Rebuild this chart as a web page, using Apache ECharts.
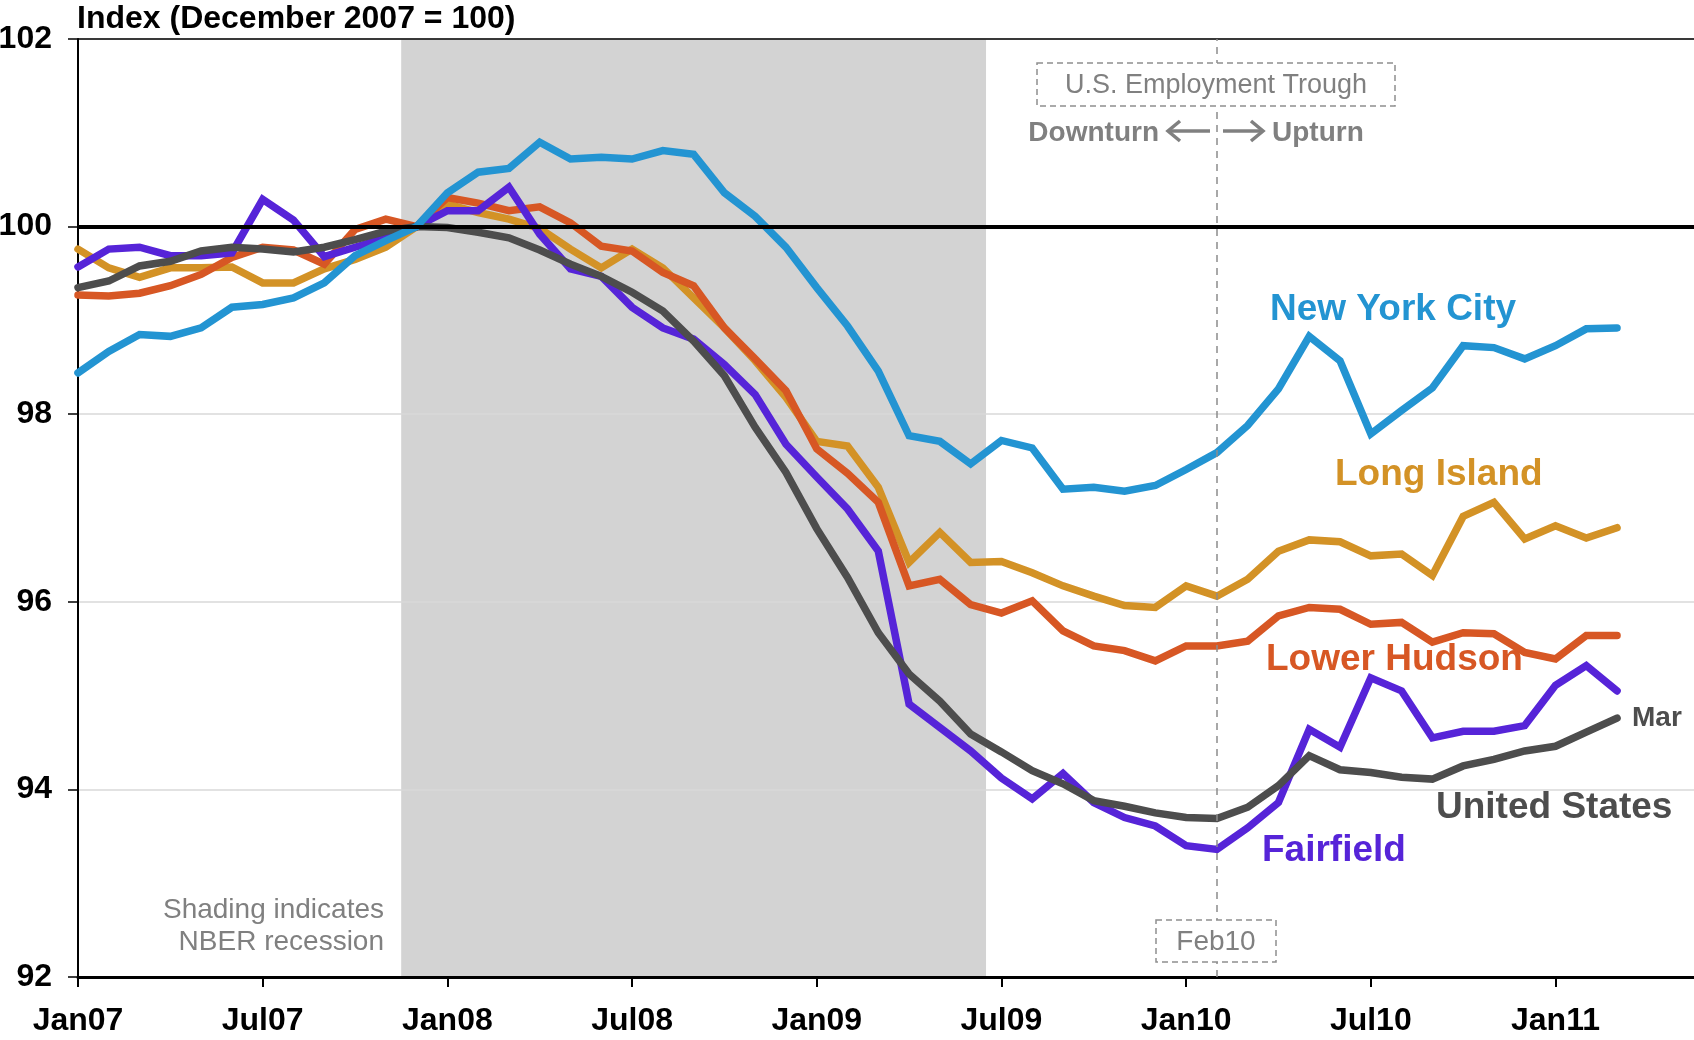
<!DOCTYPE html>
<html>
<head>
<meta charset="utf-8">
<title>Employment Index</title>
<script src="https://cdn.jsdelivr.net/npm/echarts@6/dist/echarts.min.js"></script>
<style>
    html, body { margin: 0; padding: 0; background: #fff; }
    #chart { width: 1694px; height: 1040px; }
</style>
</head>
<body>
<div id="chart"></div>
<script>
const months = [
    'Jan07', 'Feb07', 'Mar07', 'Apr07', 'May07', 'Jun07', 'Jul07', 'Aug07', 'Sep07', 'Oct07', 'Nov07', 'Dec07',
    'Jan08', 'Feb08', 'Mar08', 'Apr08', 'May08', 'Jun08', 'Jul08', 'Aug08', 'Sep08', 'Oct08', 'Nov08', 'Dec08',
    'Jan09', 'Feb09', 'Mar09', 'Apr09', 'May09', 'Jun09', 'Jul09', 'Aug09', 'Sep09', 'Oct09', 'Nov09', 'Dec09',
    'Jan10', 'Feb10', 'Mar10', 'Apr10', 'May10', 'Jun10', 'Jul10', 'Aug10', 'Sep10', 'Oct10', 'Nov10', 'Dec10',
    'Jan11', 'Feb11', 'Mar11'
]
const xTickLabels = ['Jan07', 'Jul07', 'Jan08', 'Jul08', 'Jan09', 'Jul09', 'Jan10', 'Jul10', 'Jan11']
const yTicks = [92, 94, 96, 98, 100, 102]

const newYorkCity = [
    98.44, 98.67, 98.85, 98.83, 98.92, 99.14, 99.17, 99.24, 99.40, 99.69, 99.85, 100.00,
    100.36, 100.58, 100.62, 100.90, 100.72, 100.74, 100.72, 100.81, 100.77, 100.36, 100.11, 99.78,
    99.35, 98.94, 98.46, 97.77, 97.71, 97.47, 97.72, 97.64, 97.20, 97.22, 97.18, 97.24,
    97.41, 97.59, 97.88, 98.27, 98.83, 98.57, 97.79, 98.04, 98.28, 98.73, 98.71, 98.59,
    98.73, 98.91, 98.92
]
const longIsland = [
    99.76, 99.56, 99.46, 99.56, 99.56, 99.57, 99.40, 99.40, 99.55, 99.65, 99.78, 100.00,
    100.24, 100.15, 100.08, 99.98, 99.76, 99.56, 99.76, 99.56, 99.24, 98.92, 98.57, 98.18,
    97.71, 97.66, 97.22, 96.42, 96.74, 96.42, 96.43, 96.31, 96.17, 96.06, 95.96, 95.94,
    96.17, 96.06, 96.24, 96.54, 96.66, 96.64, 96.49, 96.51, 96.28, 96.91, 97.06, 96.67,
    96.81, 96.68, 96.79
]
const lowerHudson = [
    99.27, 99.26, 99.29, 99.37, 99.49, 99.67, 99.78, 99.75, 99.60, 99.97, 100.08, 100.00,
    100.31, 100.25, 100.17, 100.21, 100.04, 99.79, 99.74, 99.51, 99.37, 98.92, 98.59, 98.25,
    97.63, 97.37, 97.06, 96.17, 96.24, 95.97, 95.88, 96.01, 95.69, 95.53, 95.48, 95.37,
    95.53, 95.53, 95.58, 95.85, 95.94, 95.92, 95.76, 95.78, 95.57, 95.67, 95.66, 95.46,
    95.39, 95.64, 95.64
]
const fairfield = [
    99.57, 99.76, 99.78, 99.69, 99.69, 99.72, 100.29, 100.07, 99.68, 99.78, 99.88, 100.00,
    100.17, 100.17, 100.42, 99.92, 99.55, 99.47, 99.14, 98.92, 98.80, 98.53, 98.21, 97.68,
    97.33, 96.99, 96.54, 94.91, 94.66, 94.41, 94.12, 93.90, 94.17, 93.86, 93.70, 93.61,
    93.40, 93.36, 93.59, 93.86, 94.64, 94.45, 95.19, 95.05, 94.55, 94.62, 94.62, 94.68,
    95.11, 95.32, 95.05
]
const unitedStates = [
    99.35, 99.42, 99.58, 99.63, 99.74, 99.78, 99.76, 99.73, 99.78, 99.86, 99.95, 100.00,
    99.99, 99.94, 99.88, 99.75, 99.60, 99.47, 99.30, 99.10, 98.78, 98.41, 97.86, 97.38,
    96.78, 96.26, 95.67, 95.23, 94.94, 94.59, 94.40, 94.20, 94.06, 93.88, 93.82, 93.75,
    93.70, 93.69, 93.81, 94.04, 94.36, 94.21, 94.18, 94.13, 94.11, 94.25, 94.32, 94.41,
    94.46, 94.61, 94.76
]

// NBER recession Dec07 - Jun09, US employment trough Feb10
const recession = [months.indexOf('Dec07') - 0.5, months.indexOf('Jun09') + 0.5]
const trough = months.indexOf('Feb10')

const FONT = '"Liberation Sans", Arial, Helvetica, sans-serif'
const GREY_TEXT = '#808080'

function pairs(values) {
    return values.map((v, i) => [i, v])
}

function lineSeries(name, values, color) {
    return {
        name: name,
        type: 'line',
        z: 2,
        data: pairs(values),
        showSymbol: false,
        silent: true,
        animation: false,
        lineStyle: {
            color: color,
            width: 7.5,
            cap: 'round',
            join: 'miter'
        }
    }
}

function seriesLabel(text, x, y, color) {
    return {
        type: 'text',
        left: x,
        top: y - 21,
        z: 20,
        style: {
            text: text,
            fill: color,
            font: 'bold 37px ' + FONT
        }
    }
}

function dashedBox(x, y, w, h) {
    return {
        type: 'rect',
        z: 10,
        shape: { x: x, y: y, width: w, height: h },
        style: {
            fill: '#fff',
            stroke: '#8f8f8f',
            lineWidth: 1.5,
            lineDash: [6, 4]
        }
    }
}

function arrow(x1, x2, y) {
    const dir = x2 > x1 ? 1 : -1
    return {
        type: 'group',
        z: 10,
        children: [
            {
                type: 'polyline',
                shape: { points: [[x1, y], [x2, y]] },
                style: { stroke: GREY_TEXT, lineWidth: 3.5 }
            },
            {
                type: 'polyline',
                shape: { points: [[x2 - dir * 12, y - 10], [x2, y], [x2 - dir * 12, y + 10]] },
                style: { stroke: GREY_TEXT, lineWidth: 3.5, fill: null }
            }
        ]
    }
}

const chart = echarts.init(document.getElementById('chart'), null, { renderer: 'canvas' })

chart.setOption({
    animation: false,
    backgroundColor: '#fff',
    textStyle: { fontFamily: FONT },
    title: {
        text: 'Index (December 2007 = 100)',
        left: 77,
        top: 3,
        padding: 0,
        textStyle: {
            fontFamily: FONT,
            fontSize: 32,
            fontWeight: 'bold',
            color: '#000'
        }
    },
    grid: {
        left: 78,
        top: 39,
        right: 0,
        bottom: 63,
        containLabel: false,
        outerBoundsMode: 'none'
    },
    xAxis: {
        type: 'value',
        min: 0,
        max: 52.5,
        interval: 6,
        z: 3,
        axisLine: {
            show: true,
            onZero: false,
            lineStyle: { color: '#000', width: 3 }
        },
        axisTick: {
            show: true,
            length: 10,
            lineStyle: { color: '#000', width: 2 }
        },
        axisLabel: {
            margin: 28,
            color: '#000',
            fontFamily: FONT,
            fontSize: 32,
            fontWeight: 'bold',
            showMaxLabel: false,
            formatter: function (v) {
                return v % 6 === 0 ? xTickLabels[v / 6] : ''
            }
        },
        splitLine: { show: false }
    },
    yAxis: {
        type: 'value',
        min: yTicks[0],
        max: yTicks[yTicks.length - 1],
        interval: 2,
        z: 1.5,
        axisLine: {
            show: true,
            onZero: false,
            lineStyle: { color: '#000', width: 2 }
        },
        axisTick: {
            show: true,
            length: 10,
            lineStyle: { color: '#000', width: 1.5 }
        },
        axisLabel: {
            margin: 26,
            color: '#000',
            fontFamily: FONT,
            fontSize: 32,
            fontWeight: 'bold'
        },
        splitLine: {
            show: true,
            lineStyle: { color: '#d9d9d9', width: 1.5 }
        }
    },
    graphic: [
        {
            type: 'text',
            right: 1694 - 384,
            top: 896,
            z: 10,
            style: {
                text: 'Shading indicates',
                fill: GREY_TEXT,
                font: '28px ' + FONT,
                textAlign: 'right'
            }
        },
        {
            type: 'text',
            right: 1694 - 384,
            top: 928,
            z: 10,
            style: {
                text: 'NBER recession',
                fill: GREY_TEXT,
                font: '28px ' + FONT,
                textAlign: 'right'
            }
        },
        dashedBox(1037, 63, 358, 43),
        {
            type: 'text',
            x: 1216,
            y: 86,
            z: 11,
            style: {
                text: 'U.S. Employment Trough',
                fill: GREY_TEXT,
                font: '27px ' + FONT,
                align: 'center',
                verticalAlign: 'middle'
            }
        },
        {
            type: 'text',
            x: 1159,
            y: 133,
            z: 11,
            style: {
                text: 'Downturn',
                fill: GREY_TEXT,
                font: 'bold 28px ' + FONT,
                align: 'right',
                verticalAlign: 'middle'
            }
        },
        {
            type: 'text',
            x: 1272,
            y: 133,
            z: 11,
            style: {
                text: 'Upturn',
                fill: GREY_TEXT,
                font: 'bold 28px ' + FONT,
                align: 'left',
                verticalAlign: 'middle'
            }
        },
        arrow(1210, 1168, 131),
        arrow(1223, 1263, 131),
        dashedBox(1156, 920, 120, 42),
        {
            type: 'text',
            x: 1216,
            y: 942,
            z: 11,
            style: {
                text: 'Feb10',
                fill: GREY_TEXT,
                font: '28px ' + FONT,
                align: 'center',
                verticalAlign: 'middle'
            }
        },
        seriesLabel('New York City', 1270, 312, '#2394d2'),
        seriesLabel('Long Island', 1335, 477, '#d39226'),
        seriesLabel('Lower Hudson', 1266, 662, '#d75724'),
        seriesLabel('Fairfield', 1262, 853, '#5624d8'),
        seriesLabel('United States', 1436, 810, '#4d4d4d')
    ],
    series: [
        {
            // recession shading, drawn under the grid lines
            type: 'line',
            z: 1,
            data: [],
            silent: true,
            markArea: {
                silent: true,
                itemStyle: { color: '#d3d3d3' },
                data: [[{ xAxis: recession[0] }, { xAxis: recession[1] }]]
            }
        },
        {
            // reference lines
            type: 'line',
            z: 1.8,
            data: [],
            silent: true,
            markLine: {
                silent: true,
                symbol: 'none',
                label: { show: false },
                animation: false,
                data: [
                    { yAxis: 100, lineStyle: { color: '#000', width: 4, type: 'solid' } },
                    { yAxis: 102, lineStyle: { color: '#000', width: 1.5, type: 'solid' } },
                    { xAxis: trough, lineStyle: { color: '#8c8c8c', width: 1.5, type: [7, 6] } }
                ]
            }
        },
        lineSeries('Long Island', longIsland, '#d39226'),
        lineSeries('Lower Hudson', lowerHudson, '#d75724'),
        lineSeries('Fairfield', fairfield, '#5624d8'),
        Object.assign(lineSeries('United States', unitedStates, '#4d4d4d'), {
            endLabel: {
                show: true,
                distance: 15,
                formatter: months[months.length - 1].slice(0, 3),
                color: '#4d4d4d',
                fontFamily: FONT,
                fontSize: 28,
                fontWeight: 'bold'
            }
        }),
        lineSeries('New York City', newYorkCity, '#2394d2')
    ]
})
</script>
</body>
</html>
